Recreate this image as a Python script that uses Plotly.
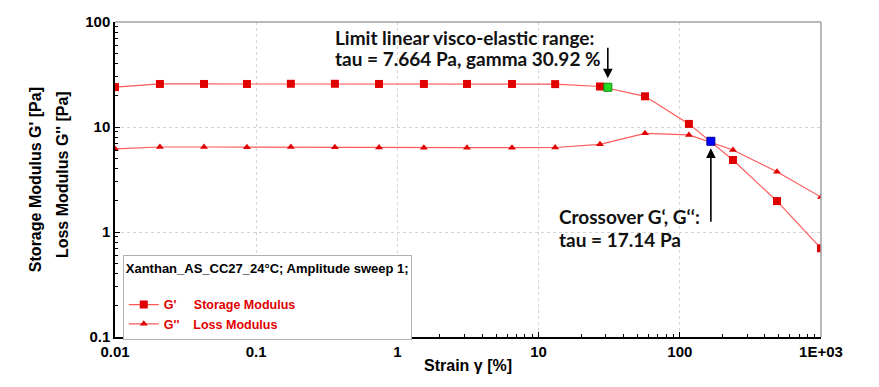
import math
import plotly.graph_objects as go

# ---- data ----
strain = [0.01, 0.0208, 0.0427, 0.086, 0.176, 0.361, 0.741, 1.54, 3.11, 6.48,
          13.1, 27.2, 56.7, 116, 238, 488, 1000]
g_storage = [24.0, 25.7, 25.7, 25.7, 25.8, 25.8, 25.7, 25.7, 25.7, 25.7,
             25.6, 24.3, 19.6, 10.7, 4.85, 1.97, 0.70]
g_loss = [6.2, 6.45, 6.45, 6.42, 6.45, 6.42, 6.38, 6.33, 6.35, 6.35,
          6.38, 6.84, 8.7, 8.4, 6.04, 3.75, 2.15]
lve_point = [30.92, 23.9]
crossover_point = [166, 7.31]

x_tickvals = [0.01, 0.1, 1, 10, 100, 1000]
x_ticktext = ["0.01", "0.1", "1", "10", "100", "1E+03"]
y_tickvals = [0.1, 1, 10, 100]
y_ticktext = ["0.1", "1", "10", "100"]

RED = "#e00000"
LINE_RED = "#ff5a5a"
BOLD = "Liberation Sans, Arial, sans-serif"

fig = go.Figure()
fig.add_trace(go.Scatter(
    x=strain, y=g_storage, mode="lines+markers",
    name="<b>G'&nbsp;&nbsp;&nbsp;&nbsp;&nbsp;Storage Modulus</b>",
    line=dict(color=LINE_RED, width=1.2),
    marker=dict(symbol="square", size=8, color=RED)))
fig.add_trace(go.Scatter(
    x=strain, y=g_loss, mode="lines+markers",
    name="<b>G''&nbsp;&nbsp;&nbsp;&nbsp;Loss Modulus</b>",
    line=dict(color=LINE_RED, width=1.2),
    marker=dict(symbol="triangle-up", size=7, color=RED)))
fig.add_trace(go.Scatter(
    x=[lve_point[0]], y=[lve_point[1]], mode="markers", showlegend=False,
    marker=dict(symbol="square", size=8, color="#22dd22",
                line=dict(color="#118811", width=1))))
fig.add_trace(go.Scatter(
    x=[crossover_point[0]], y=[crossover_point[1]], mode="markers", showlegend=False,
    marker=dict(symbol="square", size=8, color="#0000ff",
                line=dict(color="#000099", width=1))))

minor_vals = [m * 10 ** e for e in range(-3, 4) for m in range(2, 10)]

common = dict(
    type="log", automargin=False,
    showline=True, linecolor="black", linewidth=1.5,
    ticks="inside", ticklen=5, tickcolor="black",
    minor=dict(tickvals=minor_vals, ticks="inside", ticklen=3, tickcolor="black", showgrid=False),
    showgrid=True, gridcolor="#d4d4d4", griddash="dot", gridwidth=1,
    zeroline=False,
    tickfont=dict(family=BOLD, size=15, color="black"),
)
fig.update_xaxes(
    range=[-2, 3],
    tickvals=x_tickvals, ticktext=["<b>%s</b>" % t for t in x_ticktext],
    **common,
)
fig.update_yaxes(
    range=[-1, 2],
    tickvals=y_tickvals, ticktext=["<b>%s</b>" % t for t in y_ticktext],
    **common,
)

# top / right frame (gray)
fig.add_shape(type="line", xref="paper", yref="paper", x0=0, x1=1, y0=1, y1=1,
              line=dict(color="#a0a0a0", width=1.5))
fig.add_shape(type="line", xref="paper", yref="paper", x0=1, x1=1, y0=0, y1=1,
              line=dict(color="#a0a0a0", width=1.5))

ann_font = dict(family="Lato, Open Sans, sans-serif", size=19, color="#111111")


def text_ann(txt, x, y):
    return dict(text="<b>%s</b>" % txt, x=x, y=y, xref="x", yref="y", showarrow=False,
                xanchor="left", yanchor="middle", align="left", font=ann_font)


annotations = [
    dict(text="<b>Storage Modulus G' [Pa]</b>", xref="paper", yref="paper", x=0, y=0.498,
         xshift=-80, textangle=-90, showarrow=False, xanchor="center", yanchor="middle",
         font=dict(family=BOLD, size=16, color="black")),
    dict(text="<b>Loss Modulus G'' [Pa]</b>", xref="paper", yref="paper", x=0, y=0.514,
         xshift=-53, textangle=-90, showarrow=False, xanchor="center", yanchor="middle",
         font=dict(family=BOLD, size=16, color="black")),
    dict(text="<b>Strain γ [%]</b>", xref="paper", yref="paper", x=0.5, y=0, yshift=-28,
         showarrow=False, xanchor="center", yanchor="middle",
         font=dict(family=BOLD, size=16, color="black")),
    text_ann("Limit linear visco-elastic range:", -0.456, 1.857),
    text_ann("tau = 7.664 Pa, gamma 30.92 %", -0.456, 1.657),
    dict(text="", x=math.log10(lve_point[0]), y=math.log10(lve_point[1]), xref="x", yref="y",
         showarrow=True, ax=0, ay=-41, arrowhead=2, arrowsize=1.2, arrowwidth=1.6,
         arrowcolor="black", standoff=9),
    text_ann("Crossover G‘, G‘‘:", 1.130, 0.143),
    text_ann("tau = 17.14 Pa", 1.130, -0.076),
    dict(text="", x=math.log10(crossover_point[0]), y=math.log10(crossover_point[1]),
         xref="x", yref="y", showarrow=True, ax=0, ay=82, arrowhead=2, arrowsize=1.2,
         arrowwidth=1.6, arrowcolor="black", standoff=7),
]

fig.update_layout(
    width=871, height=379,
    margin=dict(l=107, r=58, t=14, b=50),
    plot_bgcolor="white", paper_bgcolor="white",
    annotations=annotations,
    showlegend=True,
    legend=dict(
        x=0.011, y=0.26, xanchor="left", yanchor="top",
        bgcolor="white", bordercolor="#b0b0b0", borderwidth=1,
        title=dict(text="<b>Xanthan_AS_CC27_24°C; Amplitude sweep 1;</b><br> ",
                   font=dict(family=BOLD, size=13, color="black")),
        font=dict(family=BOLD, size=12.5, color=RED),
        tracegroupgap=0, itemwidth=30,
    ),
)

fig.write_html("out.html")
